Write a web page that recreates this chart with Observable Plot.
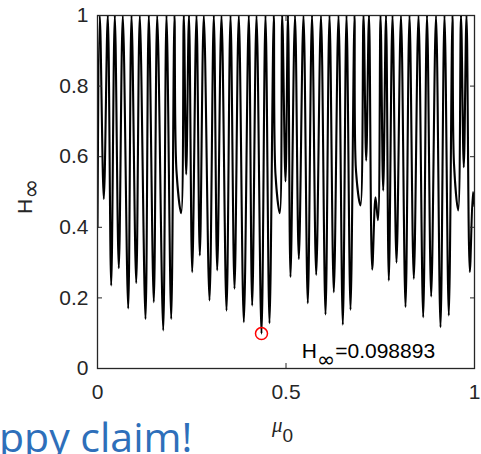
<!DOCTYPE html>
<html>
<head>
<meta charset="utf-8">
<script src="https://cdn.jsdelivr.net/npm/d3@7"></script>
<script src="https://cdn.jsdelivr.net/npm/@observablehq/plot@0.6"></script>
<style>
  html, body { margin: 0; padding: 0; background: #fff; overflow: hidden; }
  svg { display: block; }
</style>
</head>
<body>
<div id="chart"></div>
<script>
// mu_0 values of the curve vertices (peaks at H = 1, dips between)
const mu = [
  0, 0.0061, 0.0167, 0.0273, 0.0363, 0.0459, 0.0565, 0.0671, 0.0814, 0.0902,
  0.1027, 0.1122, 0.1273, 0.1361, 0.1493, 0.1584, 0.1743, 0.1830, 0.1955, 0.2042,
  0.2095, 0.2220, 0.2289, 0.2353, 0.2427, 0.2512, 0.2626, 0.2714, 0.2820, 0.2971,
  0.3085, 0.3175, 0.3289, 0.3422, 0.3528, 0.3634, 0.3748, 0.3881, 0.4013, 0.4103,
  0.4218, 0.4350, 0.4456, 0.4562, 0.4676, 0.4721, 0.4836, 0.4899, 0.4987, 0.5053,
  0.5119, 0.5239, 0.5340, 0.5464, 0.5578, 0.5690, 0.5801, 0.5928, 0.6048, 0.6154,
  0.6268, 0.6393, 0.6507, 0.6605, 0.6711, 0.6817, 0.6857, 0.6976, 0.7056, 0.7127,
  0.7202, 0.7286, 0.7374, 0.7440, 0.7507, 0.7578, 0.7653, 0.7727, 0.7825, 0.7931,
  0.8050, 0.8170, 0.8276, 0.8390, 0.8515, 0.8639, 0.8740, 0.8851, 0.8979, 0.9098,
  0.9204, 0.9318, 0.9416, 0.9456, 0.9568, 0.9642, 0.9716, 0.9788, 0.9875, 0.9960,
  1.0
];
const Hinf = [
  0.40, 1, 0.48, 1, 0.235, 1, 0.284, 1, 0.17, 1,
  0.242, 1, 0.14, 1, 0.188, 1, 0.108, 1, 0.14, 1,
  0.56, 0.44, 1, 0.55, 1, 0.273, 1, 0.32, 1, 0.193,
  1, 0.278, 1, 0.164, 1, 0.226, 1, 0.131, 1, 0.178,
  1, 0.098893, 1, 0.128, 1, 0.55, 0.44, 1, 0.53, 1,
  0.259, 1, 0.31, 1, 0.185, 1, 0.265, 1, 0.153, 1,
  0.216, 1, 0.124, 1, 0.166, 1, 0.56, 0.462, 1, 0.589,
  1, 0.28, 0.485, 0.42, 1, 0.504, 1, 0.249, 1, 0.30,
  1, 0.174, 1, 0.254, 1, 0.145, 1, 0.204, 1, 0.117,
  1, 0.15, 1, 0.58, 0.448, 1, 0.57, 1, 0.273, 0.50,
  0.46
];
// marked minimum
const minMu = [0.435];
const minH = [0.098893];
const minLabelValue = "=0.098893";
// tick values / labels
const xTicks = [0, 0.5, 1];
const xTickLabels = ["0", "0.5", "1"];
const yTicks = [0, 0.2, 0.4, 0.6, 0.8, 1];
const yTickLabels = ["0", "0.2", "0.4", "0.6", "0.8", "1"];
// annotation anchor (data units) for the minimum label
const annMu = [0.543];
const annH = [0.028];

const curve = mu.map((m, i) => ({mu: m, H: Hinf[i]}));
const minPt = minMu.map((m, i) => ({mu: m, H: minH[i]}));

const axisColor = "#262626";
const svg = Plot.plot({
  width: 481,
  height: 454,
  marginTop: 15,
  marginRight: 7,
  marginBottom: 86,
  marginLeft: 97,
  style: {fontFamily: "'Liberation Sans', Arial, sans-serif", fontSize: "21px", color: axisColor, background: "#fff", overflow: "visible"},
  x: {domain: [0, 1]},
  y: {domain: [0, 1]},
  marks: [
    Plot.line(curve, {x: "mu", y: "H", stroke: "black", strokeWidth: 2.1, curve: "catmull-rom", clip: true}),
    Plot.frame({stroke: axisColor, strokeWidth: 1.3}),
    Plot.axisX(xTicks, {anchor: "bottom", tickSize: -5, text: null, label: null, stroke: axisColor}),
    Plot.axisX(xTicks, {anchor: "top", tickSize: -5, text: null, label: null, stroke: axisColor}),
    Plot.axisY(yTicks, {anchor: "left", tickSize: -5, text: null, label: null, stroke: axisColor}),
    Plot.axisY(yTicks, {anchor: "right", tickSize: -5, text: null, label: null, stroke: axisColor}),
    Plot.axisX(xTicks, {anchor: "bottom", tickSize: 0, tickPadding: 16, label: null, tickFormat: (d) => xTickLabels[xTicks.indexOf(d)], fill: axisColor}),
    Plot.axisY(yTicks, {anchor: "left", tickSize: 0, tickPadding: 9, label: null, tickFormat: (d) => yTickLabels[yTicks.indexOf(d)], fill: axisColor}),
    Plot.dot(minPt, {x: "mu", y: "H", r: 6, stroke: "#ff0000", fill: "none", strokeWidth: 1.5})
  ]
});

const sx = svg.scale("x"), sy = svg.scale("y");
const s = d3.select(svg);

// minimum annotation  H_inf = value
const ann = s.append("text")
  .attr("x", sx.apply(annMu[0]))
  .attr("y", sy.apply(annH[0]))
  .attr("fill", "black")
  .attr("text-anchor", "start")
  .style("font-family", "'Liberation Sans', Arial, sans-serif")
  .style("font-size", "21px");
ann.append("tspan").text("H");
ann.append("tspan").attr("dy", 9).style("font-family", "'DejaVu Sans'").style("font-size", "22px").text("∞");
ann.append("tspan").attr("dy", -9).text(minLabelValue);

// y label H_inf (rotated)
const yl = s.append("text")
  .attr("transform", "translate(32,214) rotate(-90)")
  .attr("fill", axisColor)
  .attr("text-anchor", "start")
  .style("font-family", "'Liberation Sans', Arial, sans-serif")
  .style("font-size", "21px");
yl.append("tspan").text("H");
yl.append("tspan").attr("dy", 7).style("font-family", "'DejaVu Sans'").style("font-size", "24px").text("∞");

// x label mu_0
const xl = s.append("text")
  .attr("x", 272)
  .attr("y", 432)
  .attr("fill", axisColor)
  .attr("text-anchor", "start")
  .style("font-family", "'Liberation Serif', serif")
  .style("font-size", "21px");
xl.append("tspan").style("font-style", "italic").text("μ");
xl.append("tspan").attr("dy", 10).style("font-family", "'Liberation Sans', Arial, sans-serif").style("font-size", "19px").text("0");

// blue caption fragment at the bottom left
s.append("text")
  .attr("x", -1)
  .attr("y", 452)
  .attr("fill", "#2e6fba")
  .attr("text-anchor", "start")
  .style("font-family", "'Open Sans', sans-serif")
  .style("font-size", "41px")
  .text("ppy claim!");

document.getElementById("chart").appendChild(svg);
</script>
</body>
</html>
